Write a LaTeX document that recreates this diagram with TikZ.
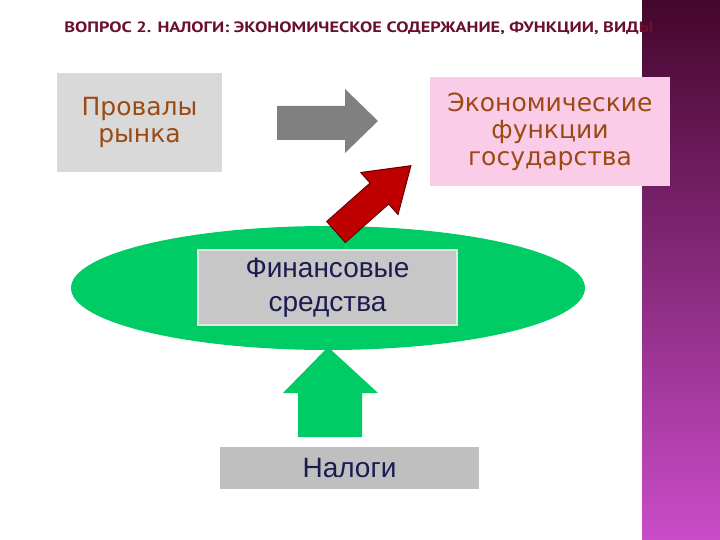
\documentclass[tikz,border=0pt]{standalone}
\usepackage{fontspec}
\usetikzlibrary{shapes.geometric}
\setmainfont{DejaVu Sans}
\newfontfamily\arialf{Liberation Sans}
\newfontfamily\titlef{PT Sans}
\definecolor{brn}{HTML}{9A4A12}
\definecolor{navyt}{HTML}{1C1C50}
\definecolor{maroon}{HTML}{6B0F2F}
\definecolor{grn}{HTML}{00CC66}
\begin{document}
\begin{tikzpicture}[x=1pt,y=-1pt,
  boxtxt/.style={font=\fontsize{25}{27}\selectfont,align=center,text=brn},
  boxtxtb/.style={font=\arialf\fontsize{28}{34}\selectfont,align=center,text=navyt}]
\useasboundingbox (0,0) rectangle (720,540);
\fill[white] (0,0) rectangle (720,540);
\shade[top color=black!50!maroon!80!violet, bottom color=violet!60!magenta!70] (642,0) rectangle (720,540);
\node[anchor=west,font=\titlef\bfseries\fontsize{15}{17}\selectfont,text=maroon,xscale=1.22,transform shape] (title) at (60,28) {ВОПРОС 2. НАЛОГИ: ЭКОНОМИЧЕСКОЕ СОДЕРЖАНИЕ, ФУНКЦИИ, ВИДЫ};
\node[fill=black!15,minimum width=165,minimum height=99,boxtxt] (prov) at (139.5,122.5) {Провалы\\рынка};
\node[fill=magenta!20,minimum width=240,minimum height=109,boxtxt] (econ) at (550,131.5) {Экономические\\функции\\государства};
\fill[black!50] (277,106) -- (345,106) -- (345,89) -- (378,121) -- (345,153) -- (345,140) -- (277,140) -- cycle;
\node[ellipse,fill=grn,minimum width=514,minimum height=124,inner sep=0] (ell) at (328,288) {};
\filldraw[fill=red!75!black,draw=red!40!black,line width=1pt] (345.3,242.5) -- (388.7,204) -- (398,214.5) -- (410.9,165.7) -- (360.8,172.5) -- (370.1,183) -- (326.7,221.5) -- cycle;
\node[fill=black!22,draw=black!10,line width=1.5pt,minimum width=259,minimum height=75,boxtxtb] (fin) at (327.5,287.5) {Финансовые\\средства};
\fill[grn] (328,347) -- (378,393) -- (362,393) -- (362,437) -- (298,437) -- (298,393) -- (283,393) -- cycle;
\node[fill=black!25,minimum width=259,minimum height=42,boxtxtb] (nal) at (349.5,468) {Налоги};
\end{tikzpicture}
\end{document}
